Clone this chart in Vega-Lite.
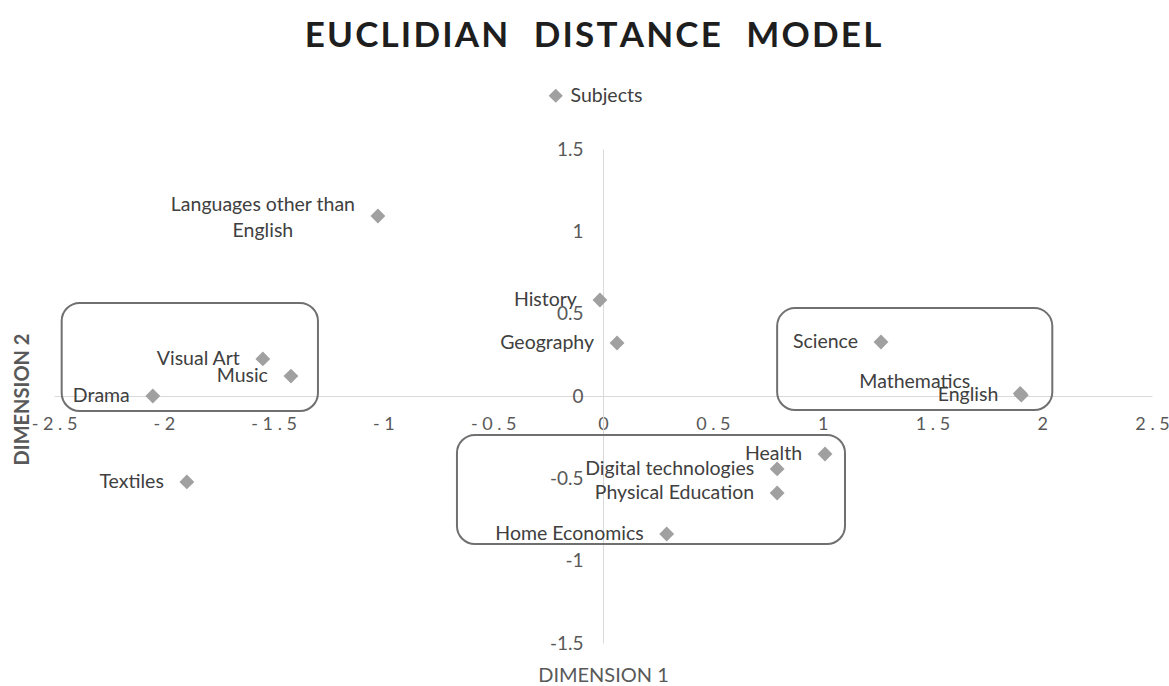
{
  "$schema": "https://vega.github.io/schema/vega-lite/v6.json",
  "autosize": "none",
  "width": 1098,
  "height": 494,
  "padding": {"left": 54, "top": 149, "right": 17, "bottom": 43},
  "background": "white",
  "title": {
    "text": "E\u200aU\u200aC\u200aL\u200aI\u200aD\u200aI\u200aA\u200aN\u00a0\u00a0\u00a0D\u200aI\u200aS\u200aT\u200aA\u200aN\u200aC\u200aE\u00a0\u00a0\u00a0M\u200aO\u200aD\u200aE\u200aL",
    "font": "Lato",
    "fontSize": 35,
    "fontWeight": "bold",
    "color": "#1e1e1e",
    "frame": "group",
    "anchor": "middle",
    "dx": -10,
    "offset": 32
  },
  "config": {
    "view": {"stroke": null},
    "font": "Lato"
  },
  "datasets": {
    "subjects": [
      {"label": "Languages other than English", "d1": -1.025, "d2": 1.093},
      {"label": "History", "d1": -0.014, "d2": 0.583},
      {"label": "Geography", "d1": 0.064, "d2": 0.322},
      {"label": "Visual Art", "d1": -1.549, "d2": 0.225},
      {"label": "Music", "d1": -1.421, "d2": 0.121},
      {"label": "Drama", "d1": -2.05, "d2": 0.0},
      {"label": "Textiles", "d1": -1.895, "d2": -0.522},
      {"label": "Science", "d1": 1.266, "d2": 0.328},
      {"label": "Mathematics", "d1": 1.9, "d2": 0.015},
      {"label": "English", "d1": 1.905, "d2": 0.005},
      {"label": "Health", "d1": 1.011, "d2": -0.352},
      {"label": "Digital technologies", "d1": 0.793, "d2": -0.443},
      {"label": "Physical Education", "d1": 0.793, "d2": -0.589},
      {"label": "Home Economics", "d1": 0.29, "d2": -0.838}
    ],
    "boxes": [
      {"group": "Arts", "x1": -2.465, "x2": -1.298, "y1": 0.565, "y2": -0.091},
      {"group": "Sciences", "x1": 0.793, "x2": 2.046, "y1": 0.534, "y2": -0.085},
      {"group": "Technologies", "x1": -0.665, "x2": 1.102, "y1": -0.237, "y2": -0.899}
    ]
  },
  "layer": [
    {
      "data": {"name": "boxes"},
      "mark": {"type": "rect", "fill": null, "stroke": "#707070", "strokeWidth": 2, "cornerRadius": 18},
      "encoding": {
        "x": {"field": "x1", "type": "quantitative"},
        "x2": {"field": "x2"},
        "y": {"field": "y1", "type": "quantitative"},
        "y2": {"field": "y2"}
      }
    },
    {
      "data": {"name": "subjects"},
      "mark": {"type": "point", "shape": "diamond", "filled": true, "size": 220, "opacity": 1},
      "encoding": {
        "x": {
          "field": "d1", "type": "quantitative",
          "scale": {"domain": [-2.5, 2.5], "nice": false, "zero": false},
          "axis": {
            "values": [-2.5, -2, -1.5, -1, -0.5, 0, 0.5, 1, 1.5, 2, 2.5],
            "offset": -247,
            "grid": false,
            "ticks": false,
            "tickSize": 0,
            "domainColor": "#d9d9d9",
            "domainWidth": 1,
            "labelExpr": "join(split('' + datum.value, ''), ' ')",
            "labelFont": "Lato",
            "labelFontSize": 18,
            "labelColor": "#595959",
            "labelPadding": 19,
            "labelBaseline": "top",
            "labelFlush": false,
            "labelOverlap": false,
            "title": "DIMENSION 1",
            "titleFont": "Lato",
            "titleFontSize": 20,
            "titleFontWeight": "normal",
            "titleColor": "#595959",
            "titleY": 279,
            "titleBaseline": "middle"
          }
        },
        "y": {
          "field": "d2", "type": "quantitative",
          "scale": {"domain": [-1.5, 1.5], "nice": false, "zero": false},
          "axis": {
            "values": [-1.5, -1, -0.5, 0, 0.5, 1, 1.5],
            "offset": -549,
            "grid": false,
            "ticks": false,
            "tickSize": 0,
            "domainColor": "#d9d9d9",
            "domainWidth": 1,
            "labelExpr": "'' + datum.value",
            "labelFont": "Lato",
            "labelFontSize": 19,
            "labelColor": "#595959",
            "labelPadding": 20,
            "labelFlush": false,
            "labelOverlap": false,
            "title": "DIMENSION 2",
            "titleFont": "Lato",
            "titleFontSize": 20,
            "titleFontWeight": "bold",
            "titleColor": "#595959",
            "titleX": -581,
            "titleY": 250,
            "titleBaseline": "middle",
            "titleAlign": "center"
          }
        },
        "color": {
          "datum": "Subjects",
          "type": "nominal",
          "scale": {"range": ["#a0a0a0"]},
          "legend": {
            "title": null,
            "orient": "none",
            "legendX": 492,
            "legendY": -63,
            "padding": 0,
            "symbolType": "diamond",
            "symbolSize": 200,
            "symbolStrokeWidth": 0,
            "labelFont": "Lato",
            "labelFontSize": 19.5,
            "labelColor": "#404040",
            "labelOffset": 5
          }
        }
      }
    },
    {
      "data": {"name": "subjects"},
      "transform": [{"filter": "datum.label !== 'Mathematics' && datum.label !== 'Languages other than English'"}],
      "mark": {"type": "text", "align": "right", "baseline": "middle", "dx": -23, "font": "Lato", "fontSize": 19.5, "color": "#404040"},
      "encoding": {
        "x": {"field": "d1", "type": "quantitative"},
        "y": {"field": "d2", "type": "quantitative"},
        "text": {"field": "label"}
      }
    },
    {
      "data": {"name": "subjects"},
      "transform": [{"filter": "datum.label === 'Mathematics'"}],
      "mark": {"type": "text", "align": "right", "baseline": "middle", "dx": -50, "dy": -12, "font": "Lato", "fontSize": 19.5, "color": "#404040"},
      "encoding": {
        "x": {"field": "d1", "type": "quantitative"},
        "y": {"field": "d2", "type": "quantitative"},
        "text": {"field": "label"}
      }
    },
    {
      "data": {"name": "subjects"},
      "transform": [{"filter": "datum.label === 'Languages other than English'"}],
      "mark": {"type": "text", "align": "center", "baseline": "middle", "dx": -115, "dy": -11, "lineHeight": 26, "font": "Lato", "fontSize": 19.5, "color": "#404040"},
      "encoding": {
        "x": {"field": "d1", "type": "quantitative"},
        "y": {"field": "d2", "type": "quantitative"},
        "text": {"value": ["Languages other than", "English"]}
      }
    }
  ]
}
